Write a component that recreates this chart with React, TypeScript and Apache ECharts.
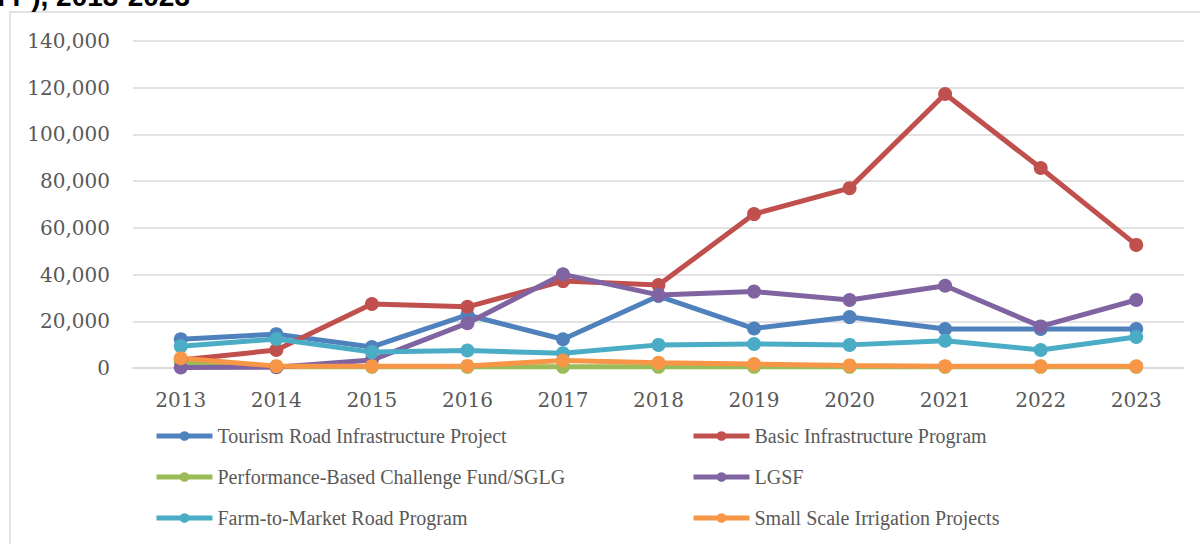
import React, { useEffect, useRef } from "react";
import * as echarts from "echarts";

const years = ["2013", "2014", "2015", "2016", "2017", "2018", "2019", "2020", "2021", "2022", "2023"];
const seriesNames = [
  "Tourism Road Infrastructure Project",
  "Basic Infrastructure Program",
  "Performance-Based Challenge Fund/SGLG",
  "LGSF",
  "Farm-to-Market Road Program",
  "Small Scale Irrigation Projects",
];
const tourism = [12300, 14500, 9000, 22700, 12300, 30800, 16900, 21800, 16700, 16700, 16700];
const basicInfra = [3400, 7700, 27400, 26200, 37200, 35500, 65900, 77000, 117300, 85600, 52700];
const performance = [2500, 500, 500, 500, 500, 500, 500, 500, 500, 500, 500];
const lgsf = [200, 300, 3400, 19200, 40100, 31300, 32700, 29100, 35200, 17800, 29100];
const farmToMarket = [9300, 12400, 6800, 7500, 6300, 9900, 10300, 9900, 11700, 7700, 13300];
const irrigation = [4200, 800, 800, 900, 3200, 2200, 1700, 1100, 700, 700, 700];
const colors = ["#4F81BD", "#C0504D", "#9BBB59", "#8064A2", "#4BACC6", "#F79646"];
const yTicks = { min: 0, max: 140000, interval: 20000 };
const titleText = "(in Million ₱), 2013-2023";

export default function App() {
  const ref = useRef<HTMLDivElement>(null);
  useEffect(() => {
    if (!ref.current) return;
    const chart = echarts.init(ref.current, undefined, { renderer: "svg" });
    const data = [tourism, basicInfra, performance, lgsf, farmToMarket, irrigation];
    const legendText = {
      fontFamily: "Liberation Serif",
      fontSize: 20,
      color: "#595959",
      lineHeight: 20,
    };
    const legendBase = {
      top: 421,
      orient: "vertical",
      itemWidth: 56,
      itemHeight: 12,
      itemGap: 21,
      textStyle: legendText,
      lineStyle: { width: 5 },
    };
    chart.setOption({
      animation: false,
      backgroundColor: "#ffffff",
      color: colors,
      graphic: [
        {
          type: "rect",
          shape: { x: 10, y: 12, width: 1300, height: 700 },
          style: { fill: "none", stroke: "#d9d9d9", lineWidth: 1.5 },
          silent: true,
        },
        {
          type: "text",
          x: 190,
          y: -4,
          style: {
            text: titleText,
            fontFamily: "Liberation Sans",
            fontWeight: "bold",
            fontSize: 28,
            fill: "#000000",
            textAlign: "right",
            textVerticalAlign: "middle",
          },
        },
      ],
      grid: { left: 133, right: 16, top: 41, bottom: 176, containLabel: false },
      xAxis: {
        type: "category",
        data: years,
        boundaryGap: true,
        axisLine: { show: true, lineStyle: { color: "#d9d9d9", width: 1.5 } },
        axisTick: { show: false },
        axisLabel: {
          fontFamily: "DejaVu Serif",
          fontSize: 20,
          color: "#595959",
          margin: 22,
        },
      },
      yAxis: {
        type: "value",
        min: yTicks.min,
        max: yTicks.max,
        interval: yTicks.interval,
        axisLine: { show: false },
        axisTick: { show: false },
        splitLine: { lineStyle: { color: "#d9d9d9", width: 1.5 } },
        axisLabel: {
          fontFamily: "DejaVu Serif",
          fontSize: 20,
          color: "#595959",
          margin: 23,
          formatter: (v: number) => v.toLocaleString("en-US"),
        },
      },
      legend: [
        { ...legendBase, left: 149, data: [seriesNames[0], seriesNames[2], seriesNames[4]] },
        { ...legendBase, left: 686, data: [seriesNames[1], seriesNames[3], seriesNames[5]] },
      ],
      series: seriesNames.map((name, i) => ({
        name,
        type: "line",
        data: data[i],
        symbol: "circle",
        symbolSize: 14,
        lineStyle: { width: 5, color: colors[i] },
        itemStyle: { color: colors[i] },
      })),
    });
    return () => chart.dispose();
  }, []);
  return (
    <div
      ref={ref}
      style={{ position: "fixed", left: 0, top: 0, width: 1200, height: 544, background: "#fff" }}
    />
  );
}
